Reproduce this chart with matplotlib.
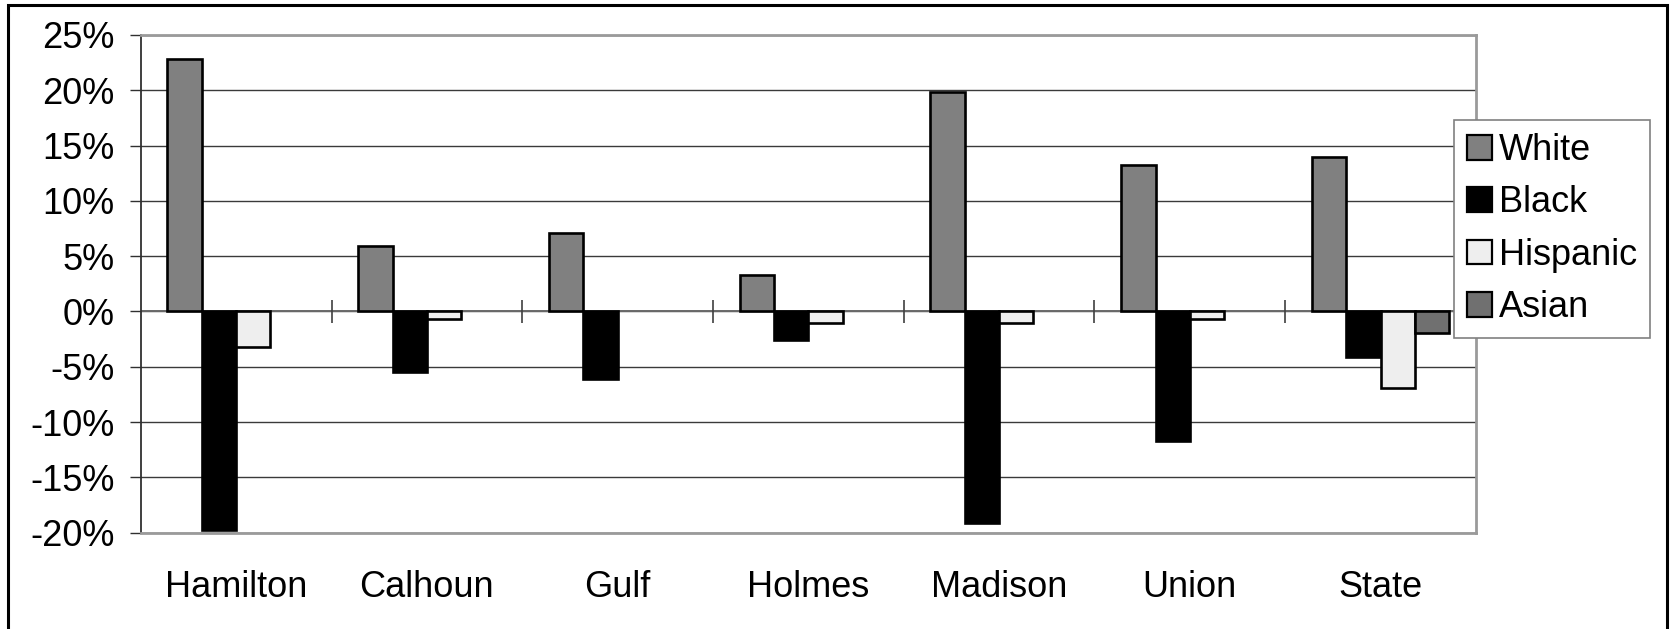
import numpy as np
import matplotlib.pyplot as plt
from matplotlib.patches import Rectangle

plt.rcParams['font.family'] = ['Liberation Sans', 'DejaVu Sans']

counties = ["Hamilton", "Calhoun", "Gulf", "Holmes", "Madison", "Union", "State"]
series = ["White", "Black", "Hispanic", "Asian"]

# percent change by group, nan where no bar is shown
white = [22.8, 5.9, 7.1, 3.3, 19.8, 13.2, 14.0]
black = [-19.8, -5.5, -6.1, -2.6, -19.1, -11.7, -4.15]
hispanic = [-3.2, -0.68, np.nan, -1.07, -1.0, -0.68, -6.95]
asian = [np.nan, np.nan, np.nan, np.nan, np.nan, np.nan, -1.97]

colors = ["#808080", "#000000", "#eeeeee", "#707070"]
yticks = [-20, -15, -10, -5, 0, 5, 10, 15, 20, 25]

fig = plt.figure(figsize=(16.7, 6.29), dpi=100)
ax = fig.add_axes([0.0843, 0.1531, 0.7995, 0.7913])

x = np.arange(len(counties))
width = 0.18
for i, (vals, col) in enumerate(zip([white, black, hispanic, asian], colors)):
    vals = np.asarray(vals, dtype=float)
    keep = ~np.isnan(vals)
    ax.bar(x[keep] + (i - 1.5) * width, vals[keep], width,
           color=col, edgecolor="black", linewidth=1.9, zorder=3)

ax.set_xlim(-0.5, len(counties) - 0.5)
ax.set_ylim(-20, 25)
ax.set_yticks(yticks)
ax.set_yticklabels([f"{t}%" for t in yticks])
ax.set_xticks(x)
ax.set_xticklabels(counties)

ax.yaxis.grid(True, color="#3a3a3a", linewidth=1.0, zorder=0)
ax.set_axisbelow(True)

# category axis at zero with boundary ticks crossing it
ax.axhline(0, color="#6a6a6a", linewidth=1.4, zorder=2)
ax.vlines(x[:-1] + 0.5, -1.0, 1.0, color="#404040", linewidth=1.2, zorder=2)

for side in ["top", "right", "bottom"]:
    ax.spines[side].set_color("#9a9a9a")
    ax.spines[side].set_linewidth(2.0)
ax.spines["left"].set_color("#303030")
ax.spines["left"].set_linewidth(1.3)

ax.tick_params(axis="y", labelsize=26, length=8, width=1.0, color="#303030", pad=11)
ax.tick_params(axis="x", labelsize=26, length=0, pad=27)

handles = [Rectangle((0, 0), 1, 1, facecolor=c, edgecolor="black", linewidth=1.6)
           for c in colors]
leg = fig.legend(handles, series, loc="upper left",
                 bbox_to_anchor=(0.8707, 0.8092), bbox_transform=fig.transFigure,
                 fontsize=26, frameon=True, fancybox=False, framealpha=1,
                 edgecolor="#808080", borderaxespad=0, borderpad=0.36,
                 handlelength=0.68, handleheight=0.68, handletextpad=0.2,
                 labelspacing=0.48)
leg.get_frame().set_linewidth(1.2)

# outer chart border, left open at the bottom edge
fig.patches.append(Rectangle((8 / 1670, -0.05), 1659 / 1670, 1.05 - 5 / 629,
                             transform=fig.transFigure, fill=False,
                             edgecolor="black", linewidth=2.2))

fig.savefig("out.png", dpi=100)
